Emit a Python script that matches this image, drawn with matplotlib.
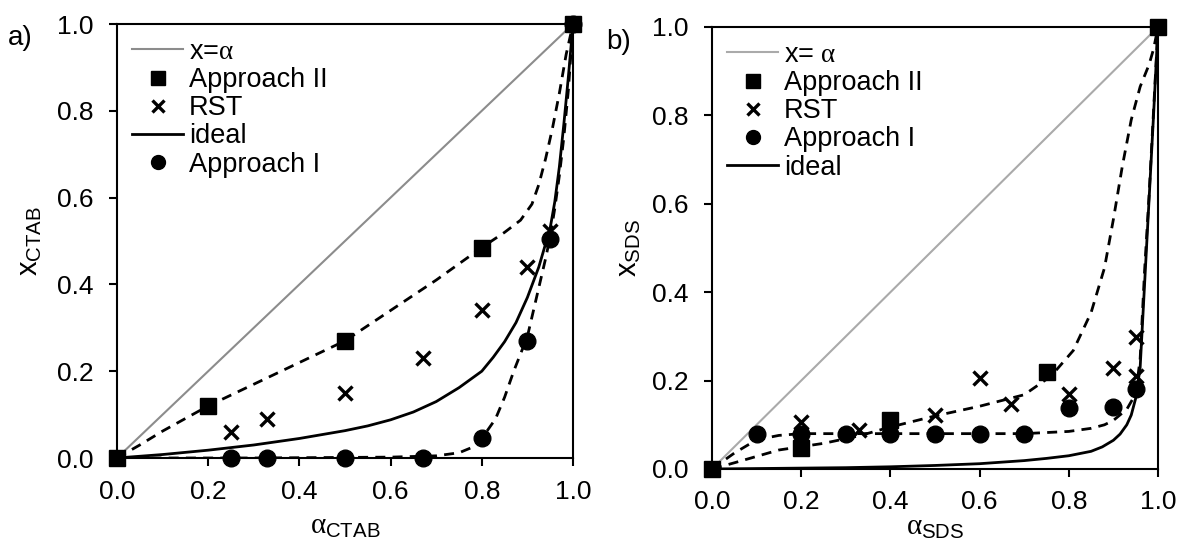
import matplotlib
matplotlib.use("Agg")
import matplotlib.pyplot as plt
from matplotlib.lines import Line2D

plt.rcParams['font.family'] = ['Liberation Sans', 'DejaVu Sans']
plt.rcParams['mathtext.fontset'] = 'custom'
plt.rcParams['mathtext.rm'] = 'Liberation Sans'
plt.rcParams['mathtext.it'] = 'Liberation Serif'
plt.rcParams['mathtext.bf'] = 'Liberation Sans:bold'

# ---------------- Panel a (CTAB) ----------------
a_app2_alpha = [0.0, 0.2, 0.5, 0.8, 1.0]
a_app2_x = [0.0, 0.12, 0.27, 0.485, 1.0]
a_rst_alpha = [0.25, 0.33, 0.5, 0.67, 0.8, 0.9, 0.95]
a_rst_x = [0.06, 0.09, 0.15, 0.23, 0.34, 0.44, 0.524]
a_app1_alpha = [0.25, 0.33, 0.5, 0.67, 0.8, 0.9, 0.95, 1.0]
a_app1_x = [0.0, 0.0, 0.0, 0.0, 0.045, 0.27, 0.505, 1.0]
a_ideal_alpha = [0.0, 0.1, 0.2, 0.3, 0.4, 0.5, 0.55, 0.6, 0.65, 0.7, 0.75, 0.8, 0.825, 0.85,
                 0.875, 0.9, 0.925, 0.95, 0.96, 0.97, 0.98, 0.99, 1.0]
a_ideal_x = [0.0, 0.008, 0.018, 0.03, 0.045, 0.063, 0.074, 0.088, 0.106, 0.13, 0.162, 0.2, 0.232,
             0.268, 0.312, 0.37, 0.44, 0.53, 0.59, 0.67, 0.77, 0.88, 1.0]
a_fit2_alpha = [0.0, 0.05, 0.1, 0.2, 0.3, 0.4, 0.5, 0.6, 0.7, 0.8, 0.85, 0.885, 0.91, 0.925,
                0.94, 0.955, 0.97, 0.985, 1.0]
a_fit2_x = [0.0, 0.03, 0.062, 0.12, 0.17, 0.22, 0.27, 0.34, 0.41, 0.485, 0.52, 0.548, 0.585,
            0.63, 0.69, 0.76, 0.84, 0.93, 1.0]
a_fit1_alpha = [0.0, 0.3, 0.6, 0.7, 0.75, 0.78, 0.8, 0.83, 0.85, 0.87, 0.9, 0.92, 0.94, 0.95,
                0.96, 0.97, 0.98, 0.99, 1.0]
a_fit1_x = [0.0, 0.0, 0.002, 0.005, 0.012, 0.025, 0.045, 0.09, 0.14, 0.2, 0.28, 0.37, 0.46,
            0.51, 0.575, 0.65, 0.74, 0.85, 1.0]

# ---------------- Panel b (SDS) ----------------
b_app2_alpha = [0.0, 0.2, 0.4, 0.75, 1.0]
b_app2_x = [0.0, 0.047, 0.11, 0.219, 1.0]
b_rst_alpha = [0.2, 0.33, 0.5, 0.6, 0.67, 0.8, 0.9, 0.95, 0.95]
b_rst_x = [0.106, 0.088, 0.122, 0.206, 0.146, 0.169, 0.228, 0.299, 0.211]
b_app1_alpha = [0.1, 0.2, 0.3, 0.4, 0.5, 0.6, 0.7, 0.8, 0.9, 0.95]
b_app1_x = [0.08, 0.08, 0.08, 0.08, 0.08, 0.08, 0.08, 0.137, 0.14, 0.18]
b_ideal_alpha = [0.0, 0.1, 0.2, 0.3, 0.4, 0.5, 0.6, 0.7, 0.75, 0.8, 0.85, 0.875, 0.9, 0.915,
                 0.93, 0.94, 0.95, 0.96, 0.97, 0.98, 0.99, 1.0]
b_ideal_x = [0.0, 0.001, 0.002, 0.003, 0.005, 0.008, 0.012, 0.019, 0.024, 0.03, 0.04, 0.05,
             0.065, 0.079, 0.1, 0.122, 0.16, 0.23, 0.42, 0.61, 0.8, 1.0]
b_fit2_alpha = [0.0, 0.05, 0.15, 0.25, 0.33, 0.4, 0.5, 0.6, 0.7, 0.76, 0.81, 0.85, 0.88, 0.9,
                0.92, 0.94, 0.96, 0.98, 0.99, 1.0]
b_fit2_x = [0.0, 0.014, 0.043, 0.058, 0.075, 0.095, 0.12, 0.142, 0.168, 0.21, 0.268, 0.354,
            0.455, 0.565, 0.685, 0.79, 0.865, 0.915, 0.95, 1.0]
b_fit1_alpha = [0.0, 0.05, 0.1, 0.15, 0.2, 0.3, 0.4, 0.5, 0.6, 0.7, 0.8, 0.85, 0.88, 0.9, 0.93,
                0.95, 0.96, 0.97, 0.98, 0.99, 1.0]
b_fit1_x = [0.0, 0.036, 0.066, 0.076, 0.08, 0.08, 0.08, 0.08, 0.08, 0.08, 0.085, 0.092, 0.1,
            0.11, 0.135, 0.17, 0.25, 0.45, 0.62, 0.81, 1.0]

ticks = [0.0, 0.2, 0.4, 0.6, 0.8, 1.0]
tick_labels = ['0.0', '0.2', '0.4', '0.6', '0.8', '1.0']

fig = plt.figure(figsize=(11.8, 5.45), dpi=100)
ax_a = fig.add_axes([117/1180, 1-458/545, 456/1180, 434/545])
ax_b = fig.add_axes([712/1180, 1-469/545, 446/1180, 442/545])

DASH = (0, (3.6, 2.6))
LW = 2.0
SQ = dict(marker='s', ms=12, color='black', ls='none', clip_on=False, zorder=5)
XM = dict(marker='x', ms=10.5, mew=2.4, color='black', ls='none', clip_on=False, zorder=5)
CI = dict(marker='o', ms=12, color='black', ls='none', clip_on=False, zorder=5)

TICK_FS = 19
LABEL_FS = 21
LEG_FS = 19.5


def style(ax, xlabel, ylabel, panel, xpad, xlab_y, ylab_x, panel_xy):
    ax.set_xlim(0, 1)
    ax.set_ylim(0, 1)
    ax.set_xticks(ticks)
    ax.set_xticklabels(tick_labels)
    ax.set_yticks(ticks)
    ax.set_yticklabels(tick_labels)
    ax.tick_params(direction='out', length=6, width=1.5, labelsize=TICK_FS,
                   top=False, right=False)
    ax.tick_params(axis='x', pad=xpad)
    ax.tick_params(axis='y', pad=11)
    for s in ax.spines.values():
        s.set_linewidth(1.5)
    ax.set_xlabel(xlabel, fontsize=LABEL_FS)
    ax.set_ylabel(ylabel, fontsize=LABEL_FS)
    ax.xaxis.set_label_coords(0.5, xlab_y)
    ax.yaxis.set_label_coords(ylab_x, 0.5)
    fig.text(panel_xy[0], panel_xy[1], panel, fontsize=20, ha='left', va='center')


def legend(ax, handles, labels):
    ax.legend(handles, labels, loc='upper left', bbox_to_anchor=(0.0, 1.0),
              frameon=False, fontsize=LEG_FS, handlelength=1.9, handletextpad=0.2,
              labelspacing=0.08, borderpad=0.55, borderaxespad=0.0)


# Panel a
ax = ax_a
ax.plot([0, 1], [0, 1], color='#8c8c8c', lw=1.5, zorder=2)
ax.plot(a_fit2_alpha, a_fit2_x, color='black', lw=LW, ls=DASH, zorder=3)
ax.plot(a_fit1_alpha, a_fit1_x, color='black', lw=LW, ls=DASH, zorder=3)
ax.plot(a_ideal_alpha, a_ideal_x, color='black', lw=2.0, zorder=3)
ax.plot(a_app2_alpha, a_app2_x, **SQ)
ax.plot(a_rst_alpha, a_rst_x, **XM)
ax.plot(a_app1_alpha, a_app1_x, **CI)
style(ax, r'$\alpha_{\mathrm{CTAB}}$', r'x$_{\mathrm{CTAB}}$', 'a)',
      xpad=10, xlab_y=-0.125, ylab_x=-0.16, panel_xy=(8/1180, 1-38/545))

handles_a = [
    Line2D([], [], color='#8c8c8c', lw=1.5),
    Line2D([], [], marker='s', ms=10, color='black', ls='none'),
    Line2D([], [], marker='x', ms=9, mew=2.4, color='black', ls='none'),
    Line2D([], [], color='black', lw=2.0),
    Line2D([], [], marker='o', ms=10, color='black', ls='none'),
]
labels_a = [r'x=$\alpha$', 'Approach II', 'RST', 'ideal', 'Approach I']
legend(ax, handles_a, labels_a)

# Panel b
ax = ax_b
ax.plot([0, 1], [0, 1], color='#aaaaaa', lw=1.5, zorder=2)
ax.plot(b_fit2_alpha, b_fit2_x, color='black', lw=LW, ls=DASH, zorder=3)
ax.plot(b_fit1_alpha, b_fit1_x, color='black', lw=LW, ls=DASH, zorder=3)
ax.plot(b_ideal_alpha, b_ideal_x, color='black', lw=2.0, zorder=3)
ax.plot(b_app2_alpha, b_app2_x, **SQ)
ax.plot(b_rst_alpha, b_rst_x, **XM)
ax.plot(b_app1_alpha, b_app1_x, **CI)
style(ax, r'$\alpha_{\mathrm{SDS}}$', r'x$_{\mathrm{SDS}}$', 'b)',
      xpad=9, xlab_y=-0.1, ylab_x=-0.155, panel_xy=(606/1180, 1-42/545))

handles_b = [
    Line2D([], [], color='#aaaaaa', lw=1.5),
    Line2D([], [], marker='s', ms=10, color='black', ls='none'),
    Line2D([], [], marker='x', ms=9, mew=2.4, color='black', ls='none'),
    Line2D([], [], marker='o', ms=10, color='black', ls='none'),
    Line2D([], [], color='black', lw=2.0),
]
labels_b = [r'x= $\alpha$', 'Approach II', 'RST', 'Approach I', 'ideal']
legend(ax, handles_b, labels_b)

fig.savefig('out.png', dpi=100)
